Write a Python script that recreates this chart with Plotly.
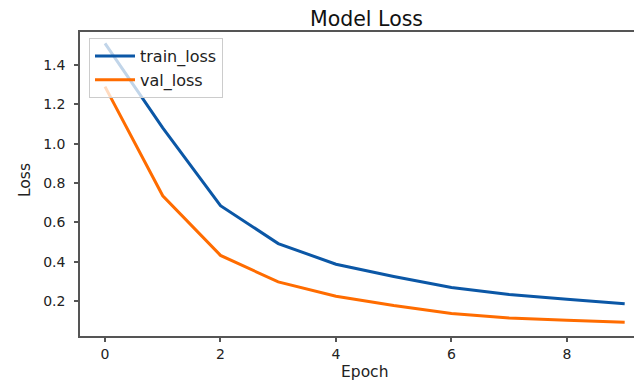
import plotly.graph_objects as go

epochs = [0, 1, 2, 3, 4, 5, 6, 7, 8, 9]
train_loss = [1.51, 1.08, 0.685, 0.492, 0.387, 0.325, 0.269, 0.233, 0.209, 0.186]
val_loss = [1.29, 0.735, 0.432, 0.297, 0.224, 0.177, 0.137, 0.113, 0.102, 0.092]
x_ticks = [0, 2, 4, 6, 8]
y_ticks = [0.2, 0.4, 0.6, 0.8, 1.0, 1.2, 1.4]
y_tick_labels = ["0.2", "0.4", "0.6", "0.8", "1.0", "1.2", "1.4"]

FONT = "DejaVu Sans"
# the page body has an 8px default margin; compensate so the window shows the chart as in the reference
OFF = 8
W, H = 642 - OFF, 383 - OFF
L, R, T, B = 80 - OFF, 0, 32 - OFF, 47


def px(xr):
    return (xr - OFF - L) / (W - L - R)


def py(yr):
    return (H - B - (yr - OFF)) / (H - T - B)


fig = go.Figure()
fig.add_trace(go.Scatter(x=epochs, y=train_loss, mode="lines", name="train_loss",
                         line=dict(color="#0b57a6", width=3)))
fig.add_trace(go.Scatter(x=epochs, y=val_loss, mode="lines", name="val_loss",
                         line=dict(color="#ff6c00", width=3)))

fig.update_layout(
    width=W, height=H,
    margin=dict(l=L, r=R, t=T, b=B, autoexpand=False),
    paper_bgcolor="white", plot_bgcolor="white",
    font=dict(family=FONT, color="#222222", size=14),
    showlegend=True,
    legend=dict(x=px(89), y=py(38), xanchor="left", yanchor="top",
                bgcolor="rgba(255,255,255,0.75)", bordercolor="#cccccc", borderwidth=1,
                font=dict(size=16, family=FONT, color="#222222"),
                itemwidth=40, tracegroupgap=0),
    xaxis=dict(range=[-0.433, 9.30], tickvals=x_ticks, ticktext=[str(v) for v in x_ticks],
               automargin=False,
               showgrid=False, zeroline=False, showline=True, linecolor="#555555", linewidth=1.5,
               mirror=True, ticks="outside", ticklen=4, tickcolor="#555555", tickwidth=1.5),
    yaxis=dict(range=[0.022, 1.568], tickvals=y_ticks, ticktext=y_tick_labels,
               automargin=False,
               showgrid=False, zeroline=False, showline=True, linecolor="#555555", linewidth=1.5,
               ticks="outside", ticklen=4, tickcolor="#555555", tickwidth=1.5,
               ticklabelstandoff=6),
    annotations=[
        dict(text="Model Loss", xref="paper", yref="paper",
             x=px(366), y=py(19), xanchor="center", yanchor="middle",
             showarrow=False, font=dict(size=20.5, family=FONT, color="#111111")),
        dict(text="Epoch", xref="paper", yref="paper",
             x=px(364), y=py(372), xanchor="center", yanchor="middle",
             showarrow=False, font=dict(size=15.5, family=FONT, color="#222222")),
        dict(text="Loss", xref="paper", yref="paper", textangle=-90,
             x=px(25), y=py(180), xanchor="center", yanchor="middle",
             showarrow=False, font=dict(size=15.5, family=FONT, color="#222222")),
    ],
)

fig.write_html("out.html")
